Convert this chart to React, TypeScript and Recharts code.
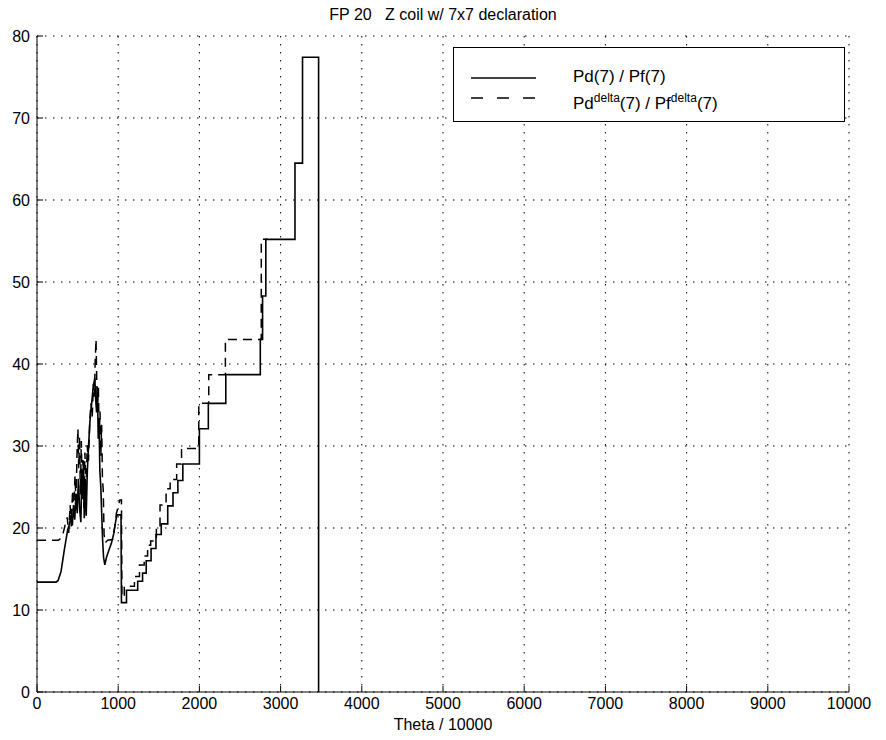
import React from 'react';
import { LineChart, Line, XAxis, YAxis, CartesianGrid } from 'recharts';

// Pd(7)/Pf(7) (solid) – theta and ratio values
const solidTheta = [
    0, 235, 260, 296, 336, 378, 400, 420, 435, 450, 465, 480, 495, 510, 525, 540, 552, 562, 572, 582,
    594, 606, 620, 636, 652, 668, 690, 712, 722, 734, 744, 754, 764, 774, 786, 796, 808, 820, 835, 855,
    885, 915, 945, 965, 985, 1035, 1040, 1102, 1102, 1240, 1240, 1300, 1300, 1345, 1345, 1405, 1405,
    1465, 1465, 1530, 1530, 1610, 1610, 1675, 1675, 1735, 1735, 1796, 1796, 2000, 2000, 2110, 2110,
    2325, 2325, 2750, 2750, 2778, 2778, 2818, 2818, 3177, 3177, 3270, 3270, 3468, 3468,
];
const solidRatio = [
    13.4, 13.4, 13.6, 14.7, 17.3, 19.8, 20.5, 21.6, 20.3, 22.8, 21, 24.2, 21.8, 26, 22.3, 20.7, 26.8, 23.5, 28.2, 21.2,
    26, 21.5, 27, 30.2, 33, 34.6, 37, 38.3, 35.8, 34.1, 37.2, 30.9, 33.4, 27, 25, 22, 18.5, 16.4, 15.5, 16.4,
    17.3, 18.1, 19.3, 20.6, 21.6, 21.6, 10.9, 10.9, 12.4, 12.4, 13.5, 13.5, 14.5, 14.5, 16.0, 16.0, 17.5,
    17.5, 19.2, 19.2, 20.5, 20.5, 22.7, 22.7, 24.3, 24.3, 25.8, 25.8, 27.8, 27.8, 32.1, 32.1, 35.2,
    35.2, 38.7, 38.7, 43, 43, 48.3, 48.3, 55.2, 55.2, 64.5, 64.5, 77.4, 77.4, 0,
];

// Pd^delta(7)/Pf^delta(7) (dashed)
const deltaTheta = [
    0, 262, 290, 320, 350, 372, 390, 408, 422, 438, 452, 468, 480, 494, 504, 514, 524, 534, 546, 556,
    566, 578, 590, 604, 618, 634, 650, 664, 680, 694, 706, 716, 727, 736, 746, 756, 766, 776, 786, 796,
    806, 816, 826, 840, 870, 930, 955, 978, 1000, 1020, 1040, 1046, 1075, 1075, 1200, 1200, 1262, 1262,
    1320, 1320, 1362, 1362, 1400, 1400, 1470, 1470, 1515, 1515, 1590, 1590, 1640, 1640, 1720, 1720,
    1780, 1780, 1992, 1992, 2115, 2115, 2320, 2320, 2762, 2762, 2840,
];
const deltaRatio = [
    18.5, 18.5, 18.7, 19.3, 20.5, 21.3, 19.4, 22.8, 20.2, 24.6, 22, 26.3, 23.4, 29.4, 32.1, 27.3, 31.2, 24.1, 30.6, 24.8,
    28.3, 22.4, 29.2, 24.2, 30.1, 28.2, 33.1, 35.2, 33.5, 37.6, 36, 40.1, 43, 37.8, 35.4, 37.1, 31, 34.2, 28.8, 32.6,
    26, 24.6, 19.2, 18.2, 18.5, 18.6, 20, 21.8, 22.6, 23.4, 23.4, 11.6, 11.6, 12.9, 12.9, 14.1, 14.1, 15.5,
    15.5, 16.6, 16.6, 17.9, 17.9, 18.4, 18.4, 20.1, 20.1, 22.8, 22.8, 24.8, 24.8, 25.9, 25.9, 27.8,
    27.8, 29.7, 29.7, 35.2, 35.2, 38.7, 38.7, 43, 43, 55.2, 55.2,
];

const xTicks = [0, 1000, 2000, 3000, 4000, 5000, 6000, 7000, 8000, 9000, 10000];
const yTicks = [0, 10, 20, 30, 40, 50, 60, 70, 80];

const solidData = solidTheta.map((x, i) => ({ x, y: solidRatio[i] }));
const deltaData = deltaTheta.map((x, i) => ({ x, y: deltaRatio[i] }));

const FONT = '"Liberation Sans", Arial, Helvetica, sans-serif';
const tickStyle = { fill: '#000', fontSize: 16, fontFamily: FONT };

// MATLAB-style opaque legend box in the upper right
const LegendBox = () => (
    <div
        style={{
            position: 'absolute',
            left: 445,
            top: 39,
            width: 392,
            height: 75,
            boxSizing: 'border-box',
            border: '1px solid #000',
            background: '#fff',
            fontFamily: FONT,
            fontSize: 17,
            color: '#000',
            zIndex: 2,
        }}
    >
        <svg width={100} height={75} style={{ position: 'absolute', left: 0, top: 0 }}>
            <line x1={17} x2={82} y1={30} y2={30} stroke="#000" strokeWidth={1.5} />
            <line x1={17} x2={82} y1={50} y2={50} stroke="#000" strokeWidth={1.5} strokeDasharray="12 14" />
        </svg>
        <div style={{ position: 'absolute', left: 119, top: 19, lineHeight: '20px', whiteSpace: 'nowrap' }}>
            Pd(7) / Pf(7)
        </div>
        <div style={{ position: 'absolute', left: 119, top: 40, lineHeight: '20px', whiteSpace: 'nowrap' }}>
            Pd<sup style={{ fontSize: 12 }}>delta</sup>(7) / Pf<sup style={{ fontSize: 12 }}>delta</sup>(7)
        </div>
    </div>
);

export default function App() {
    return (
        <div style={{ position: 'relative', width: 870, height: 724, background: '#fff' }}>
            <LineChart width={870} height={724} margin={{ top: 28, right: 29, bottom: 0, left: 0 }}>
                <CartesianGrid stroke="#000" strokeDasharray="1.5 6.5" strokeWidth={1} />
                <XAxis
                    dataKey="x"
                    type="number"
                    domain={[0, 10000]}
                    ticks={xTicks}
                    height={40}
                    tickSize={-6}
                    tickMargin={12}
                    tick={tickStyle}
                    stroke="#000"
                    allowDataOverflow
                    label={{ value: 'Theta / 10000', position: 'insideBottom', offset: 2, fill: '#000', fontSize: 16, fontFamily: FONT }}
                />
                <XAxis
                    xAxisId="top"
                    orientation="top"
                    type="number"
                    domain={[0, 10000]}
                    ticks={xTicks}
                    height={0}
                    tickSize={-6}
                    tick={false}
                    stroke="#000"
                />
                <YAxis
                    type="number"
                    domain={[0, 80]}
                    ticks={yTicks}
                    width={29}
                    tickSize={-6}
                    tickMargin={13}
                    tick={tickStyle}
                    stroke="#000"
                    allowDataOverflow
                />
                <YAxis
                    yAxisId="right"
                    orientation="right"
                    type="number"
                    domain={[0, 80]}
                    ticks={yTicks}
                    width={0}
                    tickSize={-6}
                    tick={false}
                    stroke="#000"
                />
                <Line
                    data={deltaData}
                    dataKey="y"
                    type="linear"
                    stroke="#000"
                    strokeWidth={1.5}
                    strokeDasharray="9 6"
                    dot={false}
                    isAnimationActive={false}
                />
                <Line
                    data={solidData}
                    dataKey="y"
                    type="linear"
                    stroke="#000"
                    strokeWidth={1.6}
                    dot={false}
                    isAnimationActive={false}
                />
            </LineChart>
            <div
                style={{
                    position: 'absolute',
                    left: 29,
                    width: 812,
                    top: -3,
                    textAlign: 'center',
                    fontFamily: FONT,
                    fontSize: 16,
                    lineHeight: '20px',
                    color: '#000',
                    whiteSpace: 'pre',
                    zIndex: 2,
                }}
            >
                {'FP 20   Z coil w/ 7x7 declaration'}
            </div>
            <LegendBox />
        </div>
    );
}
